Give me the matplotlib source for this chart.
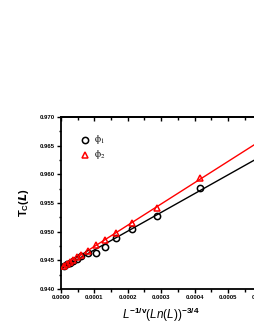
import numpy as np
import matplotlib
matplotlib.use("Agg")
import matplotlib.pyplot as plt
from matplotlib.ticker import MultipleLocator, FormatStrFormatter

# x = L^(-1/nu) (Ln L)^(-3/4)
x = [0.000009, 0.000018, 0.000027, 0.000036, 0.000048, 0.000060, 0.000081,
     0.000105, 0.000132, 0.000165, 0.000213, 0.000287, 0.000416]
phi1 = [0.9440, 0.9443, 0.9446, 0.9449, 0.9453, 0.9457, 0.9463,
        0.9463, 0.9473, 0.9489, 0.9505, 0.9527, 0.9576]
phi2 = [0.9441, 0.9444, 0.9447, 0.9451, 0.9455, 0.9460, 0.9467,
        0.9476, 0.9486, 0.9498, 0.9515, 0.9542, 0.9593]

plt.rcParams['font.family'] = ['Liberation Sans', 'DejaVu Sans']
plt.rcParams['mathtext.fontset'] = 'custom'
plt.rcParams['mathtext.it'] = 'Liberation Sans:italic'
plt.rcParams['mathtext.rm'] = 'Liberation Sans'
plt.rcParams['mathtext.bf'] = 'Liberation Sans:bold'

fig = plt.figure(figsize=(2.55, 3.3), dpi=100)
ax = fig.add_axes([0.239, 0.1242, 0.786, 0.5212])

xx = np.array(x)
xfit = np.array([0.0, 0.0006])
for y, col, mk in [(phi1, 'black', 'o'), (phi2, 'red', '^')]:
    p = np.polyfit(xx, np.array(y), 1)
    ax.plot(xfit, np.polyval(p, xfit), color=col, lw=1.0, zorder=2)
    ax.plot(x, y, linestyle='none', marker=mk, ms=4.5, mfc='none',
            mec=col, mew=1.1, zorder=3)

ax.set_xlim(0, 0.0006)
ax.set_ylim(0.940, 0.970)
ax.xaxis.set_major_locator(MultipleLocator(0.0001))
ax.xaxis.set_minor_locator(MultipleLocator(0.00005))
ax.yaxis.set_major_locator(MultipleLocator(0.005))
ax.yaxis.set_minor_locator(MultipleLocator(0.0025))
ax.xaxis.set_major_formatter(FormatStrFormatter('%.4f'))
ax.yaxis.set_major_formatter(FormatStrFormatter('%.3f'))

for s in ax.spines.values():
    s.set_linewidth(1.3)
ax.tick_params(which='both', direction='out', width=1.0, labelsize=4.3, pad=1.5)
ax.tick_params(which='major', length=3)
ax.tick_params(which='minor', length=1.8)
for lab in ax.get_xticklabels() + ax.get_yticklabels():
    lab.set_fontweight('bold')

# top axis ticks pointing inward
sec = ax.secondary_xaxis('top')
sec.xaxis.set_major_locator(MultipleLocator(0.0001))
sec.xaxis.set_minor_locator(MultipleLocator(0.00005))
sec.tick_params(which='both', direction='in', width=1.0, labeltop=False)
sec.tick_params(which='major', length=3)
sec.tick_params(which='minor', length=1.8)
sec.spines['top'].set_linewidth(1.3)

ax.set_ylabel(r'$\mathbf{T_C(}\boldsymbol{L}\mathbf{)}$', fontsize=8, labelpad=6)
ax.set_xlabel(r'$L^{\mathbf{-1/v}}(Ln(L))^{\mathbf{-3/4}}$', fontsize=8.5, labelpad=4)

# legend
ax.plot([0.000072], [0.9660], linestyle='none', marker='o', ms=4.5, mfc='none',
        mec='black', mew=1.1)
ax.plot([0.000072], [0.9634], linestyle='none', marker='^', ms=4.5, mfc='none',
        mec='red', mew=1.1)
ax.text(0.000098, 0.9660, r'$\mathrm{\phi}_1$', fontsize=7, va='center',
        math_fontfamily='stix')
ax.text(0.000098, 0.9634, r'$\mathrm{\phi}_2$', fontsize=7, va='center',
        math_fontfamily='stix')

fig.savefig('out.png', dpi=100)
